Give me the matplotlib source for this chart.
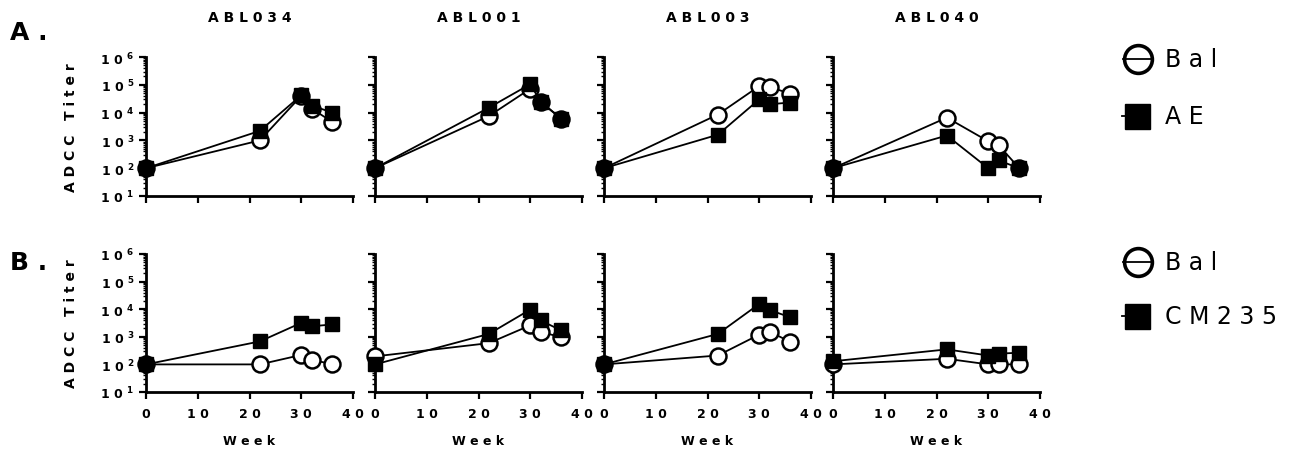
import numpy as np
import matplotlib as mpl
mpl.use('Agg')
import matplotlib.pyplot as plt
from matplotlib.lines import Line2D
from matplotlib.ticker import FixedLocator, LogLocator, NullFormatter

weeks = [0, 22, 30, 32, 36]
subjects = ['A B L 0 3 4', 'A B L 0 0 1', 'A B L 0 0 3', 'A B L 0 4 0']

# row A: Bal vs AE
bal_a = [
    [100, 1000, 40000, 14000, 4600],
    [100, 7500, 72000, 24000, 6000],
    [100, 8500, 90000, 83000, 48000],
    [100, 6600, 930, 670, 100],
]
ae_a = [
    [100, 2200, 42000, 18000, 10000],
    [100, 15000, 105000, 25000, 6000],
    [100, 1600, 30000, 20000, 23000],
    [100, 1500, 100, 190, 100],
]

# row B: Bal vs CM235
bal_b = [
    [100, 100, 220, 150, 100],
    [195, 590, 2600, 1500, 970],
    [100, 210, 1200, 1550, 650],
    [100, 160, 100, 100, 100],
]
cm_b = [
    [100, 680, 3200, 2400, 2800],
    [100, 1270, 9700, 3900, 1700],
    [100, 1270, 15500, 9300, 5100],
    [130, 350, 210, 245, 265],
]

legend_a = ['B a l', 'A E']
legend_b = ['B a l', 'C M 2 3 5']

W, H = 1297, 452
fig = plt.figure(figsize=(W / 100, H / 100), dpi=100)

lefts = [146, 375, 604, 833]
pw = 207
rows = [(58, 197), (255, 393)]

ytick_labels = ['1 0 $^{\\mathbf{%d}}$' % e for e in range(1, 7)]


def make_ax(left, top, bottom, first, show_x):
    ax = fig.add_axes([left / W, 1 - bottom / H, pw / W, (bottom - top) / H])
    ax.set_yscale('log')
    ax.set_xlim(0, 40)
    ax.set_ylim(10, 1e6)
    for s in ['top', 'right']:
        ax.spines[s].set_visible(False)
    for s in ['left', 'bottom']:
        ax.spines[s].set_linewidth(2)
    ax.xaxis.set_major_locator(FixedLocator([0, 10, 20, 30, 40]))
    ax.yaxis.set_major_locator(FixedLocator([10 ** e for e in range(1, 7)]))
    ax.yaxis.set_minor_locator(LogLocator(base=10, subs=np.arange(2, 10), numticks=20))
    ax.yaxis.set_minor_formatter(NullFormatter())
    ax.tick_params(which='major', direction='out', length=5, width=1.6)
    ax.tick_params(which='minor', direction='out', length=2.5, width=1)
    if first:
        ax.set_yticklabels(ytick_labels, fontsize=9, fontweight='bold')
    else:
        ax.set_yticklabels([])
    if show_x:
        ax.set_xticklabels(['0', '1 0', '2 0', '3 0', '4 0'], fontsize=9, fontweight='bold')
        ax.tick_params(axis='x', pad=6)
        ax.set_xlabel('W e e k', fontsize=9, fontweight='bold', labelpad=10)
    else:
        ax.set_xticklabels([])
    return ax


def draw(ax, circ, sq):
    ax.plot(weeks, circ, color='black', lw=1.3, marker='o', ms=11.5,
            mfc='white', mec='black', mew=1.8, clip_on=False, zorder=3)
    ax.plot(weeks, sq, color='black', lw=1.3, marker='s', ms=10.5,
            mfc='black', mec='black', clip_on=False, zorder=4)


for r, (top, bottom) in enumerate(rows):
    circ_data = bal_a if r == 0 else bal_b
    sq_data = ae_a if r == 0 else cm_b
    for i in range(4):
        ax = make_ax(lefts[i], top, bottom, i == 0, r == 1)
        draw(ax, circ_data[i], sq_data[i])
        if r == 0:
            ax.set_title(subjects[i], fontsize=10, fontweight='bold', pad=26)
        if i == 0:
            ax.set_ylabel('A D C C   T i t e r', fontsize=10, fontweight='bold', labelpad=16)

# panel letters
fig.text(10 / W, 1 - 33 / H, 'A .', fontsize=18, fontweight='bold', va='center')
fig.text(10 / W, 1 - 263 / H, 'B .', fontsize=18, fontweight='bold', va='center')


# legend keys drawn in figure pixels
def fx(x):
    return x / W


def fy(y):
    return 1 - y / H


def add_legend(y_circ, y_sq, labels):
    fig.add_artist(Line2D([fx(1123), fx(1153)], [fy(y_circ)] * 2, transform=fig.transFigure,
                          color='black', lw=1.3))
    fig.add_artist(Line2D([fx(1138)], [fy(y_circ)], transform=fig.transFigure,
                          marker='o', ms=20, mfc='none', mec='black', mew=2.6, ls='none'))
    fig.add_artist(Line2D([fx(1122), fx(1150)], [fy(y_sq)] * 2, transform=fig.transFigure,
                          color='black', lw=1.3))
    fig.add_artist(Line2D([fx(1137)], [fy(y_sq)], transform=fig.transFigure,
                          marker='s', ms=18, mfc='black', mec='black', ls='none'))
    fig.text(fx(1165), fy(y_circ), labels[0], fontsize=17, va='center')
    fig.text(fx(1165), fy(y_sq), labels[1], fontsize=17, va='center')


add_legend(60, 117, legend_a)
add_legend(263, 317, legend_b)

fig.savefig('out.png', dpi=100)
